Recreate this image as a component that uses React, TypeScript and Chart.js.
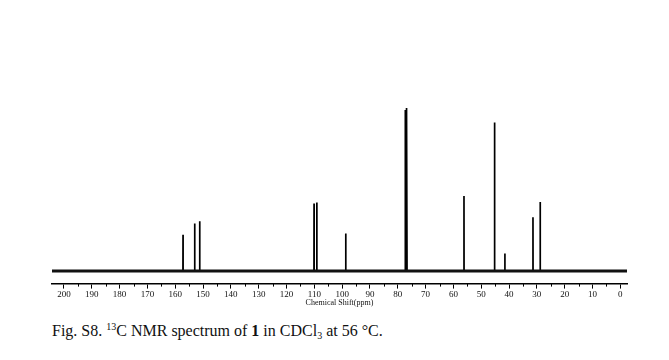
import React, { useEffect, useRef } from "react";
import { Chart, registerables } from "chart.js";

Chart.register(...registerables);

// 13C NMR peaks (ppm) and relative intensities (CDCl3 = 100)
const peakShifts = [157.2, 153.0, 151.2, 110.1, 109.1, 98.7, 77.3, 77.0, 76.7, 56.2, 45.2, 41.5, 31.4, 28.8];
const peakIntensities = [22.2, 29.1, 30.6, 41.5, 42.1, 23.0, 98.8, 100, 98.5, 46.0, 91.2, 10.8, 33.0, 42.3];

const axisRange = [-2.4, 204.3]; // ppm shown (reversed)
const majorTicks = [0, 10, 20, 30, 40, 50, 60, 70, 80, 90, 100, 110, 120, 130, 140, 150, 160, 170, 180, 190, 200];
const minorTicks = [5, 15, 25, 35, 45, 55, 65, 75, 85, 95, 105, 115, 125, 135, 145, 155, 165, 175, 185, 195];
const yRange = [-7.7, 161.4];

const xTitle = "Chemical Shift(ppm)";

function buildSpectrum() {
  const pts: { x: number; y: number }[] = [{ x: axisRange[1], y: 0 }];
  const order = peakShifts.map((_, i) => i).sort((a, b) => peakShifts[b] - peakShifts[a]);
  for (const i of order) {
    const p = peakShifts[i];
    pts.push({ x: p + 0.03, y: 0 });
    pts.push({ x: p, y: peakIntensities[i] });
    pts.push({ x: p - 0.03, y: 0 });
  }
  pts.push({ x: axisRange[0], y: 0 });
  return pts;
}

const minorTickPlugin = {
  id: "minorTicks",
  afterDraw(chart: any) {
    const scale = chart.scales.x;
    const ctx = chart.ctx;
    ctx.save();
    ctx.strokeStyle = "#000";
    ctx.lineWidth = 1;
    for (const v of minorTicks) {
      const x = Math.round(scale.getPixelForValue(v)) + 0.5;
      ctx.beginPath();
      ctx.moveTo(x, scale.top);
      ctx.lineTo(x, scale.top + 3);
      ctx.stroke();
    }
    ctx.restore();
  },
};

export default function App() {
  const ref = useRef<HTMLCanvasElement | null>(null);
  useEffect(() => {
    if (!ref.current) return;
    const data = buildSpectrum();
    const chart = new Chart(ref.current, {
      type: "scatter",
      data: {
        datasets: [
          {
            data: [
              { x: axisRange[1], y: 0 },
              { x: axisRange[0], y: 0 },
            ],
            showLine: true,
            borderColor: "#111",
            borderWidth: 3,
            pointRadius: 0,
          },
          {
            data,
            showLine: true,
            borderColor: "#000",
            borderWidth: 1.7,
            pointRadius: 0,
            tension: 0,
          },
        ],
      },
      options: {
        animation: false,
        responsive: false,
        maintainAspectRatio: false,
        layout: { padding: { left: 44, right: 34, top: 0, bottom: 2 } },
        plugins: { legend: { display: false }, tooltip: { enabled: false } },
        scales: {
          x: {
            type: "linear",
            reverse: true,
            min: axisRange[0],
            max: axisRange[1],
            afterBuildTicks: (scale: any) => {
              scale.ticks = majorTicks.map((v) => ({ value: v }));
            },
            border: { display: true, color: "#000", width: 1.5 },
            grid: { drawOnChartArea: false, tickLength: 5, tickColor: "#000", tickWidth: 1 },
            ticks: {
              autoSkip: false,
              maxRotation: 0,
              padding: 1,
              color: "#111",
              font: { family: "'Liberation Serif', serif", size: 9 },
              callback: (v: any) => String(v),
            },
            title: {
              display: true,
              text: xTitle,
              color: "#111",
              padding: { top: -3, bottom: 0 },
              font: { family: "'Liberation Serif', serif", size: 8 },
            },
          },
          y: { display: false, min: yRange[0], max: yRange[1] },
        },
      },
      plugins: [minorTickPlugin],
    });
    return () => chart.destroy();
  }, []);

  return (
    <div style={{ width: 653, background: "#fff" }}>
      <canvas ref={ref} width={653} height={302} style={{ display: "block" }} />
      <div
        style={{
          marginTop: 12,
          marginLeft: 44,
          fontFamily: "'Liberation Serif', 'Times New Roman', serif",
          fontSize: 16,
          color: "#111",
          lineHeight: "18px",
          whiteSpace: "nowrap",
        }}
      >
        Fig. S8. <sup style={{ fontSize: 10, verticalAlign: "6px", lineHeight: 0 }}>13</sup>C NMR spectrum of <b>1</b> in CDCl
        <sub style={{ fontSize: 10, verticalAlign: "-3px", lineHeight: 0 }}>3</sub> at 56 °C.
      </div>
    </div>
  );
}
